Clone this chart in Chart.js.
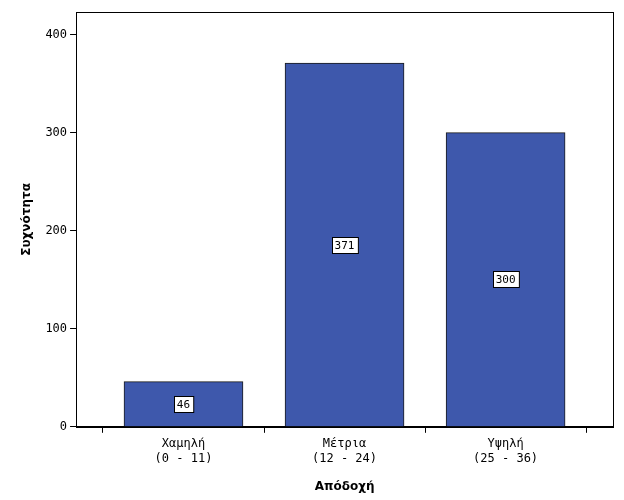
<!DOCTYPE html>
<html><head><meta charset="utf-8">
<script src="https://cdn.jsdelivr.net/npm/chart.js@4"></script>
<style>body{margin:0;background:#fff}#w{width:624px;height:500px}</style>
</head><body><div id="w"><canvas id="c"></canvas></div>
<script>
const categories = [["Χαμηλή","(0 - 11)"],["Μέτρια","(12 - 24)"],["Υψηλή","(25 - 36)"]];
const values = [46, 371, 300];
const yTicks = [0, 100, 200, 300, 400];
const mono = "'DejaVu Sans Mono', monospace";
const labelPlugin = {
  id: 'lbl',
  afterDatasetsDraw(chart) {
    const ctx = chart.ctx;
    chart.getDatasetMeta(0).data.forEach((bar, i) => {
      const txt = String(values[i]);
      const y = (bar.y + bar.base) / 2;
      ctx.font = "11px " + mono;
      const w = ctx.measureText(txt).width + 6, h = 16;
      ctx.fillStyle = '#fff'; ctx.strokeStyle = '#000'; ctx.lineWidth = 1;
      ctx.fillRect(Math.round(bar.x - w/2)+0.5, Math.round(y - h/2)+0.5, w, h);
      ctx.strokeRect(Math.round(bar.x - w/2)+0.5, Math.round(y - h/2)+0.5, w, h);
      ctx.fillStyle = '#000'; ctx.textAlign = 'center'; ctx.textBaseline = 'middle';
      ctx.fillText(txt, bar.x, y + 1);
    });
  },
  beforeDraw(chart) {
    const a = chart.chartArea, ctx = chart.ctx;
    ctx.save(); ctx.strokeStyle = '#000'; ctx.lineWidth = 1;
    ctx.strokeRect(Math.round(a.left)+0.5, Math.round(a.top)+0.5, Math.round(a.right - a.left), Math.round(a.bottom - a.top));
    ctx.restore();
  }
};
new Chart(document.getElementById('c'), {
  type: 'bar',
  data: { datasets: [{ data: values.map((v, i) => ({x: i, y: v})),
    backgroundColor: '#3e58ac', borderColor: '#1a1a1a', borderWidth: 1, barThickness: 119 }] },
  options: {
    responsive: true, maintainAspectRatio: false, animation: false,
    layout: { padding: { top: 12, right: 11, left: 20, bottom: 6 } },
    plugins: { legend: { display: false }, tooltip: { enabled: false } },
    scales: {
      x: { type: 'linear', min: -0.667, max: 2.667, offset: false,
        afterBuildTicks: s => { s.ticks = categories.map((c, i) => ({value: i})); },
        ticks: { callback: (v) => categories[v], color: '#000', font: { family: mono, size: 12 }, maxRotation: 0, autoSkip: false, padding: 4 },
        grid: { display: true, drawOnChartArea: false, drawTicks: true, tickLength: 6, color: '#000' },
        border: { color: '#000' },
        title: { display: true, text: 'Απόδοχή', color: '#000', padding: { top: 10, bottom: 0 }, font: { family: "'DejaVu Sans', sans-serif", size: 12, weight: 'bold' } } },
      y: { min: 0, max: 423,
        afterBuildTicks: s => { s.ticks = yTicks.map(v => ({value: v})); },
        ticks: { color: '#000', font: { family: mono, size: 12 } },
        grid: { display: true, drawOnChartArea: false, drawTicks: true, tickLength: 6, color: '#000' },
        border: { color: '#000' },
        title: { display: true, text: 'Συχνότητα', color: '#000', padding: { top: 0, bottom: 8 }, font: { family: "'DejaVu Sans', sans-serif", size: 12, weight: 'bold' } } }
    }
  },
  plugins: [labelPlugin]
});
</script></body></html>
